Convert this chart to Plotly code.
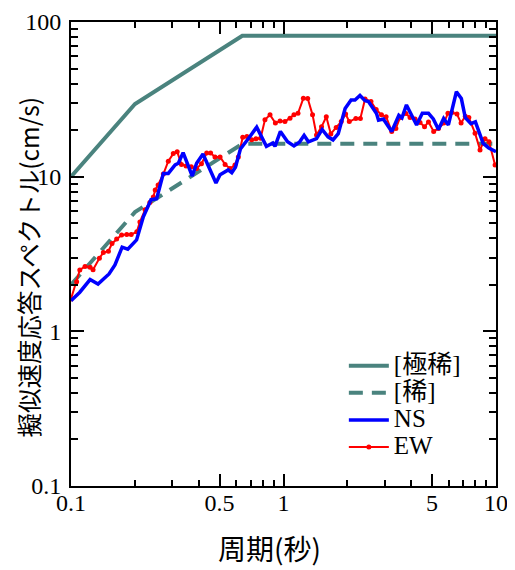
import plotly.graph_objects as go

# Design spectra
design_T = [0.1, 0.2, 0.64, 10.0]
kyokumare_sv = [10.0, 29.5, 81.5, 81.5]   # [極稀]
mare_sv = [2.0, 5.9, 16.3, 16.3]           # [稀]

# NS component (period s, pseudo velocity cm/s)
ns_T = [0.1, 0.110, 0.123, 0.134, 0.151, 0.161, 0.174, 0.185, 0.2035, 0.219, 0.238, 0.253,
        0.272, 0.287, 0.309, 0.320, 0.337, 0.372, 0.390, 0.418, 0.481, 0.503, 0.549, 0.571,
        0.594, 0.627, 0.698, 0.748, 0.831, 0.891, 0.912, 0.967, 1.045, 1.120, 1.188, 1.25,
        1.31, 1.43, 1.52, 1.62, 1.71, 1.81, 1.95, 2.08, 2.17, 2.29, 2.42, 2.51, 2.74, 2.80,
        2.95, 3.23, 3.49, 3.61, 3.79, 4.23, 4.50, 4.81, 5.07, 5.36, 5.67, 5.97, 6.51, 6.87,
        7.17, 7.62, 8.0, 8.7, 9.25, 10.0]
ns_sv = [1.58, 1.79, 2.16, 2.02, 2.35, 2.69, 3.5, 3.4, 3.90, 5.5, 7.1, 7.2,
         10.5, 10.5, 11.9, 12.2, 14.3, 10.1, 12.2, 14.0, 9.1, 10.3, 11.05, 10.6,
         11.5, 15.1, 18.3, 20.9, 15.7, 16.5, 15.7, 19.6, 16.8, 15.8, 16.7, 18.5,
         16.8, 17.6, 20.2, 18.1, 17.3, 19.0, 27.6, 31.3, 31.3, 33.5, 31.0, 30.6, 25.6, 23.2,
         23.6, 19.6, 24.9, 24.0, 29.1, 21.6, 25.7, 25.7, 23.6, 20.2, 23.8, 21.6, 35.4, 32.0,
         24.1, 22.0, 22.6, 16.4, 15.3, 14.5]

# EW component
ew_T = [0.1, 0.1063, 0.110, 0.1164, 0.123, 0.127, 0.136, 0.142, 0.150, 0.156, 0.164, 0.173,
        0.183, 0.192, 0.204, 0.211, 0.223, 0.235, 0.244, 0.249, 0.257, 0.272, 0.287, 0.303,
        0.316, 0.331, 0.348, 0.368, 0.390, 0.411, 0.435, 0.454, 0.476, 0.503, 0.531, 0.560,
        0.591, 0.613, 0.643, 0.673, 0.708, 0.742, 0.78, 0.818, 0.864, 0.916, 0.963, 1.016,
        1.073, 1.12, 1.17, 1.24, 1.30, 1.37, 1.43, 1.51, 1.59, 1.67, 1.77, 1.87, 1.96, 2.04,
        2.19, 2.30, 2.42, 2.58, 2.73, 2.89, 3.04, 3.23, 3.38, 3.53, 3.77, 3.94, 4.16, 4.39,
        4.61, 4.81, 5.09, 5.36, 5.68, 5.94, 6.2, 6.55, 6.85, 7.17, 7.45, 7.97, 8.41, 8.88,
        9.27, 9.9]
ew_sv = [1.62, 2.09, 2.49, 2.63, 2.6, 2.5, 2.97, 3.23, 3.3, 3.7, 3.95, 4.2,
         4.23, 4.23, 4.4, 5.1, 6.1, 6.8, 7.4, 8.2, 8.84, 10.4, 12.6, 14.1,
         14.5, 12.0, 11.7, 11.6, 11.3, 12.1, 14.2, 14.2, 13.4, 13.4, 12.0, 11.3,
         11.9, 13.4, 18.0, 18.2, 17.3, 17.6, 17.7, 23.3, 25.1, 22.2, 22.9, 22.7,
         23.9, 25.1, 25.7, 32.1, 32.0, 25.1, 18.6, 21.0, 24.4, 18.9, 20.8, 22.7, 25.4, 22.7,
         23.8, 23.8, 31.8, 30.6, 27.2, 25.1, 24.4, 19.6, 20.5, 24.0, 25.6, 24.1, 23.6, 22.4,
         21.0, 22.6, 19.6, 20.5, 22.2, 25.7, 26.0, 25.4, 22.2, 24.6, 24.1, 19.1, 14.9, 17.6,
         16.8, 11.9]

x_ticks = [0.1, 0.5, 1, 5, 10]
x_tick_text = ["0.1", "0.5", "1", "5", "10"]
x_minor = [0.2, 0.3, 0.4, 0.6, 0.7, 0.8, 0.9, 2, 3, 4, 6, 7, 8, 9]
y_ticks = [0.1, 1, 10, 100]
y_tick_text = ["0.1", "1", "10", "100"]
y_minor = [0.2, 0.3, 0.4, 0.5, 0.6, 0.7, 0.8, 0.9, 2, 3, 4, 5, 6, 7, 8, 9,
           20, 30, 40, 50, 60, 70, 80, 90]

x_title = "周期(秒)"
y_title = "擬似速度応答スペクトル(cm/s)"

teal = "#4a837e"
serif = "Liberation Serif, Times New Roman, Noto Sans CJK JP, serif"
cjk = "Noto Sans CJK JP, Liberation Serif, serif"


def leg(name):
    return '<span style="font-size:25px">' + name + '</span>'


fig = go.Figure()
fig.add_trace(go.Scatter(x=design_T, y=kyokumare_sv, mode="lines", name=leg("[極稀]"),
                         line=dict(color=teal, width=4), legendrank=1))
fig.add_trace(go.Scatter(x=design_T, y=mare_sv, mode="lines", name=leg("[稀]"),
                         line=dict(color=teal, width=4, dash="14px,9px"), legendrank=2))
fig.add_trace(go.Scatter(x=ew_T, y=ew_sv, mode="lines+markers", name=leg("EW"),
                         line=dict(color="#ff0000", width=2),
                         marker=dict(color="#ff0000", size=5), legendrank=4))
fig.add_trace(go.Scatter(x=ns_T, y=ns_sv, mode="lines", name=leg("NS"),
                         line=dict(color="#0000ff", width=3.5), legendrank=3))

axis_common = dict(showline=True, linecolor="black", linewidth=2, mirror="allticks",
                   ticks="inside", tickcolor="black", showgrid=False, zeroline=False,
                   automargin=False,
                   tickfont=dict(family=serif, size=24, color="black"))

fig.update_xaxes(type="log", range=[-1, 1], tickvals=x_ticks, ticktext=x_tick_text,
                 ticklen=12, tickwidth=1.5, ticklabelstandoff=-6,
                 minor=dict(tickvals=x_minor, ticks="inside", ticklen=6, tickcolor="black",
                            tickwidth=1.5, showgrid=False),
                 **axis_common)
fig.update_yaxes(type="log", range=[-1, 2], tickvals=y_ticks, ticktext=y_tick_text,
                 ticklen=13, tickwidth=1.5, ticklabelstandoff=3,
                 minor=dict(tickvals=y_minor, ticks="inside", ticklen=7, tickcolor="black",
                            tickwidth=1.5, showgrid=False),
                 **axis_common)

fig.update_layout(
    width=507, height=562,
    margin=dict(l=63, r=19, t=14, b=84, autoexpand=False),
    plot_bgcolor="white", paper_bgcolor="white",
    showlegend=True,
    legend=dict(x=0.642, y=0.299, xanchor="left", yanchor="top", bgcolor="rgba(0,0,0,0)",
                font=dict(family=serif, size=18.5, color="black"),
                tracegroupgap=0, itemwidth=40),
    annotations=[
        dict(text=x_title, xref="paper", yref="paper", x=0.468, y=-0.134,
             xanchor="center", yanchor="middle", showarrow=False,
             font=dict(family=cjk, size=28, color="black")),
        dict(text=y_title, xref="paper", yref="paper", x=-0.101, y=0.471,
             xanchor="center", yanchor="middle", showarrow=False, textangle=-90,
             font=dict(family=cjk, size=24.5, color="black")),
    ],
)

fig.write_html("out.html")
